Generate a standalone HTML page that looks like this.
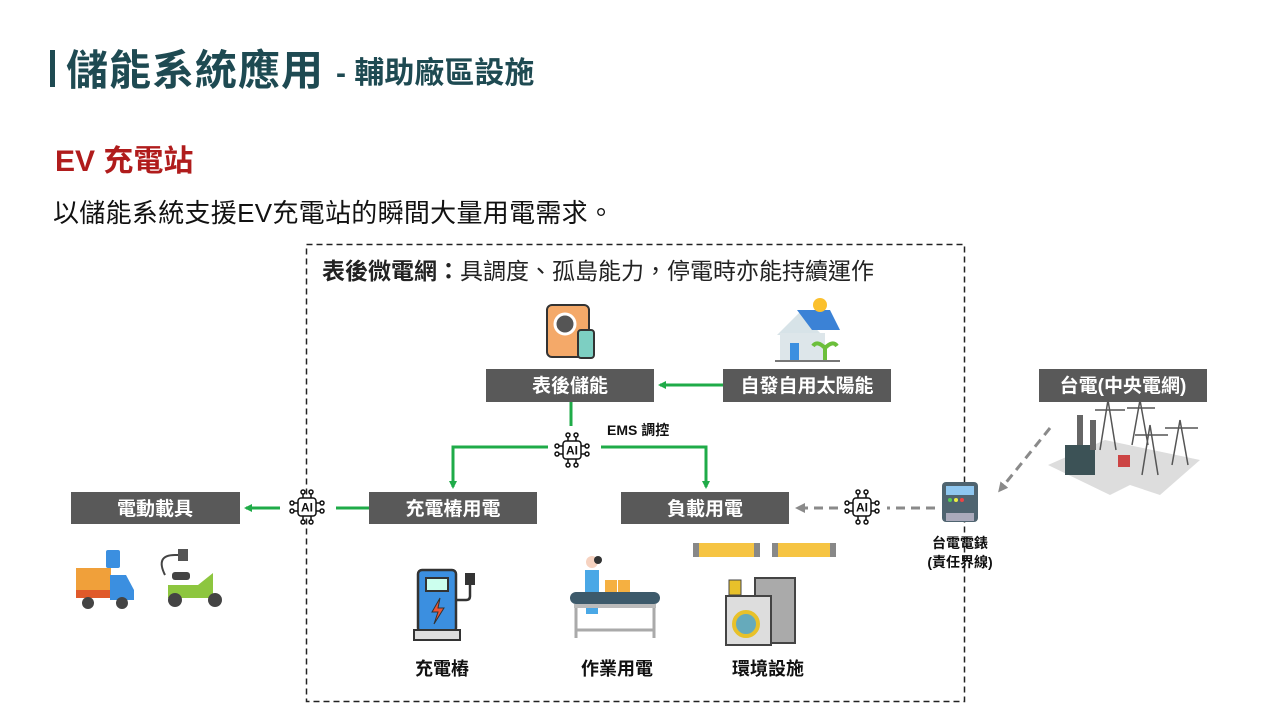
<!DOCTYPE html>
<html><head><meta charset="utf-8"><style>
body{margin:0;width:1280px;height:720px;background:#fff;overflow:hidden;font-family:"Liberation Sans","Noto Sans CJK TC",sans-serif;}
svg{position:absolute;left:0;top:0}
</style></head><body>
<svg width="1280" height="720" viewBox="0 0 1280 720" font-family="Liberation Sans, Noto Sans CJK TC, sans-serif">
<defs>
<marker id="ag" markerWidth="8" markerHeight="8" refX="6" refY="4" orient="auto" markerUnits="userSpaceOnUse"><path d="M0,0 L8,4 L0,8 z" fill="#1fab48"/></marker>
<marker id="ay" markerWidth="10" markerHeight="10" refX="7" refY="5" orient="auto" markerUnits="userSpaceOnUse"><path d="M0,0 L10,5 L0,10 z" fill="#8a8a8a"/></marker>
</defs>
<!-- title -->
<rect x="50" y="50" width="5" height="37" fill="#1e4a52"/>
<text x="66" y="85" font-size="42" font-weight="bold" fill="#1e4a52" letter-spacing="1">儲能系統應用</text>
<text x="336" y="83" font-size="30" font-weight="bold" fill="#1e4a52">- 輔助廠區設施</text>
<text x="55" y="171" font-size="30" font-weight="bold" fill="#b01c1c">EV 充電站</text>
<text x="53" y="222" font-size="26" fill="#111" letter-spacing="0.3">以儲能系統支援EV充電站的瞬間大量用電需求。</text>
<!-- dashed box -->
<rect x="306.5" y="244.5" width="658" height="457" fill="none" stroke="#222" stroke-width="1.5" stroke-dasharray="6,4"/>
<text x="322" y="279" font-size="23" fill="#222"><tspan font-weight="bold">表後微電網：</tspan>具調度、孤島能力，停電時亦能持續運作</text>
<!-- label boxes -->
<g fill="#595959">
<rect x="486" y="369" width="168" height="33"/>
<rect x="723" y="369" width="168" height="33"/>
<rect x="1039" y="369" width="168" height="33"/>
<rect x="71" y="492" width="169" height="32"/>
<rect x="369" y="492" width="168" height="32"/>
<rect x="621" y="492" width="168" height="32"/>
</g>
<g fill="#fff" font-size="19" font-weight="bold" text-anchor="middle">
<text x="570" y="392">表後儲能</text>
<text x="807" y="392">自發自用太陽能</text>
<text x="1123" y="392">台電(中央電網)</text>
<text x="155" y="515">電動載具</text>
<text x="453" y="515">充電樁用電</text>
<text x="705" y="515">負載用電</text>
</g>
<!-- green lines -->
<g stroke="#1fab48" stroke-width="3" fill="none">
<line x1="723" y1="385" x2="660" y2="385" marker-end="url(#ag)"/>
<line x1="571" y1="402" x2="571" y2="426"/>
<polyline points="548,447 453,447 453,487" marker-end="url(#ag)"/>
<polyline points="601,447 706,447 706,487" marker-end="url(#ag)"/>
<line x1="369" y1="508" x2="336" y2="508"/>
<line x1="280" y1="508" x2="246" y2="508" marker-end="url(#ag)"/>
</g>
<!-- gray dashed -->
<g stroke="#8a8a8a" stroke-width="3" fill="none" stroke-dasharray="9,6">
<line x1="935" y1="508" x2="887" y2="508"/>
<line x1="838" y1="508" x2="798" y2="508" marker-end="url(#ay)"/>
<line x1="1050" y1="428" x2="1000" y2="490" marker-end="url(#ay)"/>
</g>
<!-- AI icons -->
<g transform="translate(572,450)" stroke="#111" stroke-width="1.5" fill="#fff">
<rect x="-9" y="-9" width="18" height="18" rx="3"/>
<path d="M-4,-9V-13M4,-9V-13M-4,9V13M4,9V13M-9,-4H-13M-9,4H-13M9,-4H13M9,4H13" fill="none"/>
<circle cx="-4" cy="-15" r="2"/><circle cx="4" cy="-15" r="2"/><circle cx="-4" cy="15" r="2"/><circle cx="4" cy="15" r="2"/>
<circle cx="-15" cy="-4" r="2"/><circle cx="-15" cy="4" r="2"/><circle cx="15" cy="-4" r="2"/><circle cx="15" cy="4" r="2"/>
<text x="0" y="4.5" font-size="12" font-weight="bold" text-anchor="middle" fill="#111" stroke="none">AI</text>
</g>
<g transform="translate(307,507)" stroke="#111" stroke-width="1.5" fill="#fff">
<rect x="-9" y="-9" width="18" height="18" rx="3"/>
<path d="M-4,-9V-13M4,-9V-13M-4,9V13M4,9V13M-9,-4H-13M-9,4H-13M9,-4H13M9,4H13" fill="none"/>
<circle cx="-4" cy="-15" r="2"/><circle cx="4" cy="-15" r="2"/><circle cx="-4" cy="15" r="2"/><circle cx="4" cy="15" r="2"/>
<circle cx="-15" cy="-4" r="2"/><circle cx="-15" cy="4" r="2"/><circle cx="15" cy="-4" r="2"/><circle cx="15" cy="4" r="2"/>
<text x="0" y="4.5" font-size="12" font-weight="bold" text-anchor="middle" fill="#111" stroke="none">AI</text>
</g>
<g transform="translate(862,507)" stroke="#111" stroke-width="1.5" fill="#fff">
<rect x="-9" y="-9" width="18" height="18" rx="3"/>
<path d="M-4,-9V-13M4,-9V-13M-4,9V13M4,9V13M-9,-4H-13M-9,4H-13M9,-4H13M9,4H13" fill="none"/>
<circle cx="-4" cy="-15" r="2"/><circle cx="4" cy="-15" r="2"/><circle cx="-4" cy="15" r="2"/><circle cx="4" cy="15" r="2"/>
<circle cx="-15" cy="-4" r="2"/><circle cx="-15" cy="4" r="2"/><circle cx="15" cy="-4" r="2"/><circle cx="15" cy="4" r="2"/>
<text x="0" y="4.5" font-size="12" font-weight="bold" text-anchor="middle" fill="#111" stroke="none">AI</text>
</g>
<text x="607" y="435" font-size="14" font-weight="bold" fill="#111">EMS 調控</text>
<!-- meter -->
<rect x="942" y="482" width="36" height="40" rx="4" fill="#4f6470"/>
<rect x="946" y="486" width="28" height="9" fill="#8fc7f0"/>
<circle cx="950" cy="500" r="2" fill="#5c5"/><circle cx="956" cy="500" r="2" fill="#ee4"/><circle cx="962" cy="500" r="2" fill="#e44"/>
<rect x="946" y="513" width="28" height="8" fill="#aab"/>
<text x="960" y="548" font-size="14" font-weight="bold" fill="#111" text-anchor="middle">台電電錶</text>
<text x="960" y="567" font-size="14" font-weight="bold" fill="#111" text-anchor="middle">(責任界線)</text>
<!-- power plant -->
<polygon points="1048,465 1105,440 1200,460 1160,495 1130,485 1110,495" fill="#ddd"/>
<rect x="1065" y="445" width="30" height="30" fill="#3c5256"/>
<rect x="1077" y="415" width="6" height="30" fill="#666"/><rect x="1090" y="420" width="6" height="30" fill="#666"/>
<g stroke="#555" stroke-width="1.5" fill="none">
<path d="M1108,400 L1100,450 M1108,400 L1116,450 M1095,410 H1125"/>
<path d="M1140,400 L1132,445 M1140,400 L1148,445 M1127,408 H1155"/>
<path d="M1150,425 L1142,475 M1150,425 L1158,475 M1135,435 H1168"/>
<path d="M1180,420 L1172,465 M1180,420 L1188,465 M1165,428 H1198"/>
</g>
<rect x="1118" y="455" width="12" height="12" fill="#c44"/>
<!-- battery icon -->
<rect x="547" y="305" width="42" height="52" rx="5" fill="#f4a969" stroke="#333" stroke-width="2"/>
<circle cx="565" cy="324" r="10" fill="#555" stroke="#fff" stroke-width="3"/>
<rect x="578" y="330" width="16" height="28" rx="3" fill="#7dcfc2" stroke="#333" stroke-width="2"/>
<!-- house -->
<polygon points="777,335 800,312 822,335" fill="#d7e3e8"/>
<rect x="780" y="333" width="45" height="28" fill="#dde6ea"/>
<polygon points="797,310 830,310 840,330 812,330" fill="#3b82d6"/>
<circle cx="820" cy="305" r="7" fill="#fbc02d"/>
<rect x="790" y="343" width="9" height="18" fill="#3b8fe0"/>
<path d="M825,360 V345 M825,348 q-8,-8 -12,-2 M825,348 q8,-8 12,-2" stroke="#6bbf3b" stroke-width="4" fill="none"/>
<rect x="775" y="360" width="65" height="2" fill="#777"/>
<!-- vehicles -->
<rect x="76" y="568" width="35" height="30" fill="#f0a03a"/>
<rect x="76" y="590" width="35" height="8" fill="#e05a2a"/>
<polygon points="110,575 126,575 134,590 134,600 110,600" fill="#3b8fe0"/>
<circle cx="88" cy="603" r="6" fill="#444"/><circle cx="122" cy="603" r="6" fill="#444"/>
<rect x="106" y="550" width="14" height="18" rx="2" fill="#3b8fe0"/>
<path d="M165,575 q-10,-20 10,-20 M175,555 h8" stroke="#444" stroke-width="2" fill="none"/>
<rect x="178" y="549" width="10" height="12" fill="#555"/>
<path d="M168,585 h30 l15,-12 v25 h-45 z" fill="#8dc63f"/>
<rect x="172" y="572" width="18" height="8" rx="3" fill="#444"/>
<circle cx="175" cy="600" r="7" fill="#444"/><circle cx="215" cy="600" r="7" fill="#444"/>
<!-- charging station -->
<rect x="418" y="570" width="38" height="62" rx="4" fill="#3b8fe0" stroke="#333" stroke-width="2.5"/>
<rect x="426" y="578" width="22" height="13" fill="#cfe" stroke="#333" stroke-width="2"/>
<path d="M440,598 l-8,14 h6 l-4,12 l10,-16 h-6 z" fill="#e53" stroke="#333"/>
<rect x="414" y="630" width="46" height="10" fill="#ddd" stroke="#333" stroke-width="2"/>
<path d="M456,600 h10 q4,0 4,-4 v-12" stroke="#333" stroke-width="2.5" fill="none"/>
<rect x="465" y="573" width="10" height="12" fill="#333"/>
<!-- conveyor worker -->
<circle cx="592" cy="562" r="6" fill="#f6d2c0"/><circle cx="598" cy="560" r="4" fill="#333"/>
<rect x="585" y="570" width="14" height="22" fill="#4aa8e6"/>
<rect x="605" y="580" width="12" height="12" fill="#f5b041"/><rect x="618" y="580" width="12" height="12" fill="#f5b041"/>
<rect x="570" y="592" width="90" height="12" rx="6" fill="#3d5a6b"/>
<rect x="574" y="604" width="82" height="4" fill="#bbb"/>
<path d="M576,608 v30 M654,608 v30 M576,630 h78" stroke="#aaa" stroke-width="3"/>
<rect x="586" y="608" width="12" height="6" fill="#4aa8e6"/>
<!-- lamps -->
<rect x="693" y="543" width="67" height="14" rx="6" fill="#f6c443"/><rect x="693" y="543" width="6" height="14" fill="#888"/><rect x="754" y="543" width="6" height="14" fill="#888"/>
<rect x="772" y="543" width="64" height="14" rx="6" fill="#f6c443"/><rect x="772" y="543" width="6" height="14" fill="#888"/><rect x="830" y="543" width="6" height="14" fill="#888"/>
<!-- washer -->
<rect x="755" y="578" width="40" height="65" fill="#aaa" stroke="#444" stroke-width="2"/>
<rect x="726" y="596" width="45" height="49" fill="#ddd" stroke="#444" stroke-width="2"/>
<circle cx="746" cy="624" r="12" fill="#6ab" stroke="#e8c12a" stroke-width="4"/>
<rect x="729" y="580" width="12" height="15" fill="#e8c12a" stroke="#444"/>
<!-- bottom labels -->
<g font-size="18" font-weight="bold" fill="#111" text-anchor="middle">
<text x="442" y="675">充電樁</text>
<text x="617" y="675">作業用電</text>
<text x="768" y="675">環境設施</text>
</g>
</svg>
</body></html>
